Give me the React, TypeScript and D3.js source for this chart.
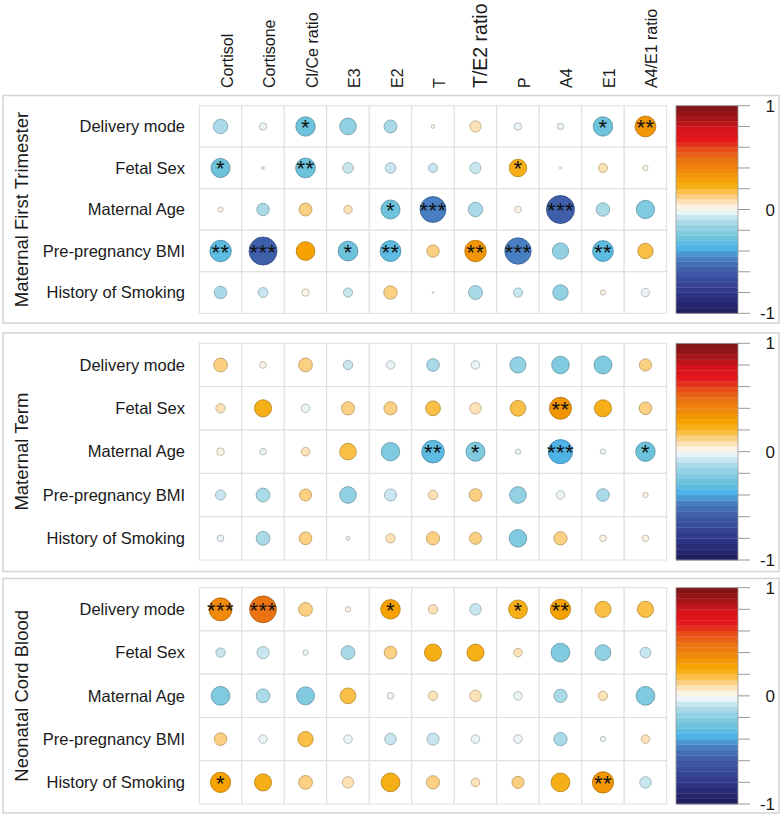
import React from "react";
import * as d3 from "d3";

// columns (hormones) and rows (factors)
const hormones = ["Cortisol", "Cortisone", "Cl/Ce ratio", "E3", "E2", "T", "T/E2 ratio", "P", "A4", "E1", "A4/E1 ratio"];
const factors = ["Delivery mode", "Fetal Sex", "Maternal Age", "Pre-pregnancy BMI", "History of Smoking"];
const panelTitles = ["Maternal First Trimester", "Maternal Term", "Neonatal Cord Blood"];

// correlation coefficients, one row per factor
const firstTrimesterR = [
  [-0.15, -0.04, -0.27, -0.2, -0.12, 0.01, 0.09, -0.04, -0.03, -0.27, 0.31],
  [-0.26, -0.005, -0.28, -0.08, -0.08, -0.06, -0.09, 0.22, 0.003, 0.06, 0.02],
  [0.02, -0.11, 0.12, 0.05, -0.26, -0.48, -0.15, 0.03, -0.56, -0.13, -0.24],
  [-0.33, -0.56, 0.25, -0.28, -0.31, 0.11, 0.33, -0.5, -0.19, -0.31, 0.17],
  [-0.11, -0.07, 0.04, -0.06, 0.13, 0.002, -0.14, -0.06, -0.17, 0.02, -0.05],
];
const termR = [
  [0.13, 0.03, 0.13, -0.06, -0.05, -0.11, -0.05, -0.18, -0.21, -0.22, 0.1],
  [0.06, 0.2, -0.05, 0.12, 0.12, 0.15, 0.09, 0.17, 0.33, 0.2, 0.11],
  [0.04, -0.03, 0.05, 0.19, -0.23, -0.35, -0.25, -0.02, -0.4, -0.02, -0.26],
  [-0.07, -0.13, 0.1, -0.19, -0.1, 0.06, 0.11, -0.19, -0.05, -0.11, 0.02],
  [-0.03, -0.13, 0.11, -0.01, 0.06, 0.12, 0.1, -0.21, 0.12, 0.03, 0.03],
];
const cordR = [
  [0.36, 0.49, 0.13, 0.02, 0.26, 0.06, -0.09, 0.24, 0.28, 0.18, 0.18],
  [-0.06, -0.1, -0.02, -0.13, 0.11, 0.2, 0.2, 0.05, -0.24, -0.17, -0.08],
  [-0.24, -0.13, -0.22, 0.17, -0.03, 0.06, 0.09, -0.05, -0.12, 0.06, -0.24],
  [0.11, -0.05, 0.16, -0.05, -0.09, -0.1, -0.05, -0.05, -0.12, -0.02, 0.05],
  [0.28, 0.2, 0.13, 0.09, 0.24, 0.12, 0.05, 0.1, 0.24, 0.31, -0.09],
];

// significance stars (0..3)
const firstTrimesterStars = [
  [0, 0, 1, 0, 0, 0, 0, 0, 0, 1, 2],
  [1, 0, 2, 0, 0, 0, 0, 1, 0, 0, 0],
  [0, 0, 0, 0, 1, 3, 0, 0, 3, 0, 0],
  [2, 3, 0, 1, 2, 0, 2, 3, 0, 2, 0],
  [0, 0, 0, 0, 0, 0, 0, 0, 0, 0, 0],
];
const termStars = [
  [0, 0, 0, 0, 0, 0, 0, 0, 0, 0, 0],
  [0, 0, 0, 0, 0, 0, 0, 0, 2, 0, 0],
  [0, 0, 0, 0, 0, 2, 1, 0, 3, 0, 1],
  [0, 0, 0, 0, 0, 0, 0, 0, 0, 0, 0],
  [0, 0, 0, 0, 0, 0, 0, 0, 0, 0, 0],
];
const cordStars = [
  [3, 3, 0, 0, 1, 0, 0, 1, 2, 0, 0],
  [0, 0, 0, 0, 0, 0, 0, 0, 0, 0, 0],
  [0, 0, 0, 0, 0, 0, 0, 0, 0, 0, 0],
  [0, 0, 0, 0, 0, 0, 0, 0, 0, 0, 0],
  [1, 0, 0, 0, 0, 0, 0, 0, 0, 2, 0],
];

const colorbarTicks = [-1, -0.8, -0.6, -0.4, -0.2, 0, 0.2, 0.4, 0.6, 0.8, 1];
const colorbarLabels = [-1, 0, 1];

// palette anchors, from -1 to 1
const anchorValues = [-1, -0.85, -0.7, -0.55, -0.45, -0.38, -0.28, -0.18, -0.1, -0.03, 0.03, 0.1, 0.17, 0.25, 0.35, 0.47, 0.57, 0.67, 0.78, 0.88, 1];
const anchorColors = ["#1f1c5a", "#2a2f7e", "#37479a", "#4064ae", "#4a88c9", "#4cb2e6", "#6cc2dc", "#90d0e2", "#b6deeb", "#e8f4f8", "#fdf3e2", "#fdd9a0", "#f9c04c", "#f6a800", "#f29008", "#ec7510", "#e8501a", "#e3181b", "#d5131a", "#a51518", "#7a1515"];

const NBANDS = 40;
const ramp = d3.scaleLinear<string>().domain(anchorValues).range(anchorColors).interpolate(d3.interpolateRgb);
const bandColors = d3.range(NBANDS).map((i) => ramp(-1 + (i + 0.5) * (2 / NBANDS)));
const colorOf = d3.scaleQuantize<string>().domain([-1, 1]).range(bandColors);

const FONT = "'Liberation Sans', Arial, sans-serif";
const W = 782;
const H = 816;

const panels = [
  { title: panelTitles[0], r: firstTrimesterR, stars: firstTrimesterStars, boxTop: 95.5, gridTop: 105.7, gridBottom: 313.3, boxBottom: 323 },
  { title: panelTitles[1], r: termR, stars: termStars, boxTop: 333, gridTop: 343.3, gridBottom: 560, boxBottom: 571.5 },
  { title: panelTitles[2], r: cordR, stars: cordStars, boxTop: 578.5, gridTop: 587.7, gridBottom: 804, boxBottom: 813 },
];

const x = d3.scaleBand().domain(hormones).range([199.3, 666.7]);
const cbLeft = 676;
const cbRight = 738;

function Panel({ p }) {
  const y = d3.scaleBand().domain(factors).range([p.gridTop, p.gridBottom]);
  const cb = d3.scaleLinear().domain([-1, 1]).range([p.gridBottom, p.gridTop]);
  const maxR = 0.45 * Math.min(x.bandwidth(), y.bandwidth());
  const bandH = (p.gridBottom - p.gridTop) / NBANDS;
  return (
    <g>
      <rect x={3} y={p.boxTop} width={776} height={p.boxBottom - p.boxTop} fill="#fff" stroke="#d4d4d4" strokeWidth={1.5} />
      <text
        transform={`translate(28,${(p.gridTop + p.gridBottom) / 2}) rotate(-90)`}
        textAnchor="middle"
        fontSize={18.5}
        fill="#1a1a1a"
      >
        {p.title}
      </text>
      {factors.map((f) => (
        <text key={f} x={185} y={y(f) + y.bandwidth() / 2} dy="0.35em" textAnchor="end" fontSize={16.5} fill="#1a1a1a">
          {f}
        </text>
      ))}
      {factors.map((f) =>
        hormones.map((h) => (
          <rect key={f + h} x={x(h)} y={y(f)} width={x.bandwidth()} height={y.bandwidth()} fill="#fff" stroke="#dedede" strokeWidth={1} />
        ))
      )}
      {factors.map((f, i) =>
        hormones.map((h, j) => {
          const v = p.r[i][j];
          const c = colorOf(v);
          const cx = x(h) + x.bandwidth() / 2;
          const cy = y(f) + y.bandwidth() / 2;
          const n = p.stars[i][j];
          return (
            <g key={f + h}>
              <circle cx={cx} cy={cy} r={maxR * Math.sqrt(Math.abs(v))} fill={c} stroke={d3.rgb(c).darker(0.9).formatHex()} strokeWidth={0.8} />
              {n > 0 && (
                <text x={cx} y={cy + 8.5} textAnchor="middle" fontSize={22} fill="#111" letterSpacing={0.5}>
                  {"*".repeat(n)}
                </text>
              )}
            </g>
          );
        })
      )}
      {bandColors.map((c, i) => (
        <rect key={i} x={cbLeft} y={cb(-1 + (i + 1) * (2 / NBANDS))} width={cbRight - cbLeft} height={bandH + 0.3} fill={c} />
      ))}
      <rect x={cbLeft} y={p.gridTop} width={cbRight - cbLeft} height={p.gridBottom - p.gridTop} fill="none" stroke="#9a9a9a" strokeWidth={0.8} />
      {colorbarTicks.map((t) => (
        <line key={t} x1={cbRight} x2={cbRight + 12} y1={cb(t)} y2={cb(t)} stroke="#999" strokeWidth={1} />
      ))}
      {colorbarLabels.map((t) => (
        <text key={t} x={775} y={cb(t)} dy="0.36em" textAnchor="end" fontSize={17} fill="#1a1a1a">
          {t}
        </text>
      ))}
    </g>
  );
}

export default function App() {
  return (
    <svg
      width={W}
      height={H}
      style={{ position: "absolute", left: 0, top: 0, background: "#fff" }}
      fontFamily={FONT}
    >
      <rect width={W} height={H} fill="#fff" />
      {hormones.map((h) => (
        <text
          key={h}
          transform={`translate(${x(h) + x.bandwidth() / 2 + 12},88) rotate(-90)`}
          textAnchor="start"
          fontSize={h === "T/E2 ratio" ? 19.5 : 16}
          fill="#1a1a1a"
        >
          {h}
        </text>
      ))}
      {panels.map((p) => (
        <Panel key={p.title} p={p} />
      ))}
    </svg>
  );
}
